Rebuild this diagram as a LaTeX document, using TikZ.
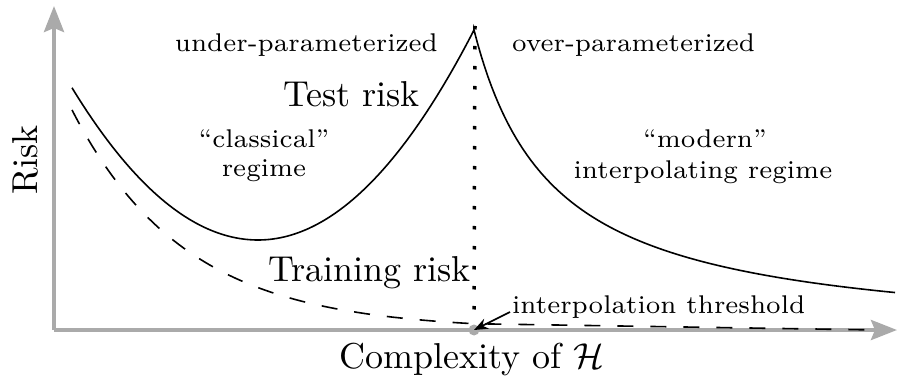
\documentclass[tikz,border=0pt]{standalone}
\usepackage{graphicx}
\usetikzlibrary{arrows.meta}
\definecolor{axisgray}{RGB}{170,170,170}
\newcommand\smtxt[1]{\scalebox{3.66}{\fontsize{7}{8}\selectfont #1}}
\newcommand\bigtxt[1]{\scalebox{3.6}{\fontsize{10}{12}\selectfont #1}}
\begin{document}
\begin{tikzpicture}[x=1pt,y=-1pt,
  lab/.style={inner sep=0, anchor=base},
  axis/.style={draw=axisgray, line width=4pt, -{Stealth[length=26pt,width=20pt,inset=4pt]}},
  curve/.style={line width=1.6pt, black},
  dashcurve/.style={line width=1.6pt, black, dash pattern=on 16pt off 17pt}]
\useasboundingbox (0,0) rectangle (897,382);
% axes
\coordinate (O) at (54,330);
\coordinate (ytip) at (54,6);
\coordinate (xtip) at (897,330);
\coordinate (thr) at (474,330);
\coordinate (top) at (475,26);
\draw[axis] (O) -- (ytip);
\draw[axis] (O) -- (xtip);
% dotted threshold
\draw[line width=3.5pt, dash pattern=on 3.5pt off 16.5pt] (top) -- (thr);
% test risk
\draw[curve] plot[domain=72:258, samples=60] (\x, {240 - 0.44*((\x-258)/10)^2})
  -- plot[domain=258:474, samples=60] (\x, {240 - 0.45*((\x-258)/10)^2})
  -- plot[domain=474:895, samples=120] (\x, {342 - 247.43/((\x-394.7)/100)});
% training risk
\coordinate (dend) at (878,330);
\draw[dashcurve] plot[domain=72:474, samples=80] (\x, {330 - 220*exp(-0.00885*(\x-72))}) -- (dend);
% threshold dot
\fill[axisgray] (thr) circle (5.5pt);
% labels
\node[lab, anchor=base east] (under) at (438,52) {\smtxt{under-parameterized}};
\node[lab, anchor=base west] (over) at (512,52) {\smtxt{over-parameterized}};
\node[lab] (classical) at (264,148) {\smtxt{“classical”}};
\node[lab] (regimeL) at (264,177) {\smtxt{regime}};
\node[lab] (modern) at (705,148) {\smtxt{“modern”}};
\node[lab] (regimeR) at (703,179) {\smtxt{interpolating regime}};
\node[lab, anchor=base west] (thrlabel) at (512,313) {\smtxt{interpolation threshold}};
\node[lab, anchor=base west] (test) at (283,107) {\bigtxt{Test risk}};
\node[lab, anchor=base west] (train) at (268,281) {\bigtxt{Training risk}};
\node[lab] (xlabel) at (472,368) {\bigtxt{Complexity of $\mathcal{H}$}};
\node[lab, rotate=90] (ylabel) at (37,160) {\bigtxt{Risk}};
% arrow to threshold
\coordinate (astart) at (510,312);
\draw[line width=1.6pt, -{Stealth[length=14pt,width=11pt]}] (astart) -- (thr);
\end{tikzpicture}
\end{document}
